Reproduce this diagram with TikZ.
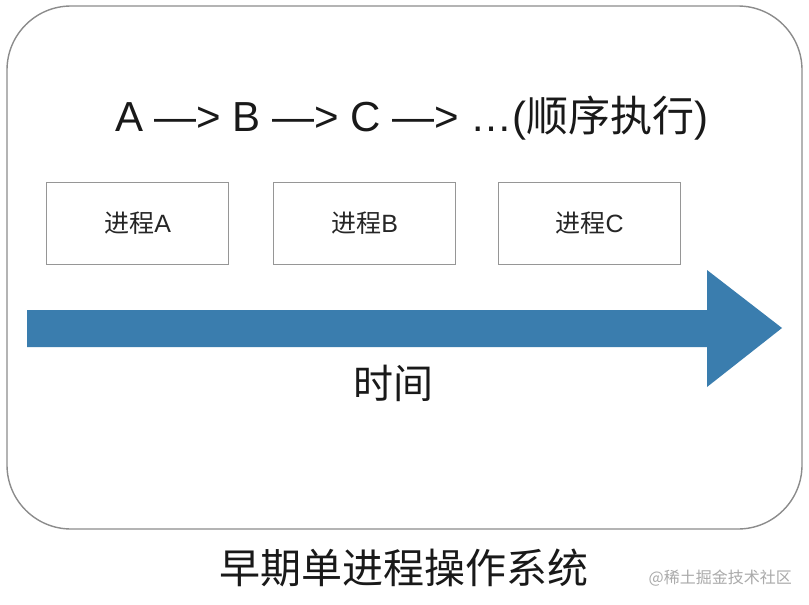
\documentclass[tikz,border=0pt]{standalone}
\usepackage{fontspec}
\setmainfont{Liberation Sans}
\newfontfamily\cjk{Noto Sans CJK SC}
\definecolor{arrowblue}{RGB}{58,125,174}
\definecolor{frame}{RGB}{140,140,140}
\definecolor{boxline}{RGB}{150,150,150}
\definecolor{wm}{RGB}{170,170,170}
\tikzset{
  procbox/.style={draw=boxline, line width=1.2pt, minimum width=182pt, minimum height=82pt, inner sep=0pt, font=\fontsize{25}{29}\selectfont, text=black!85},
  bigtext/.style={font=\fontsize{42}{48}\selectfont, text=black!90, inner sep=0pt},
}
\begin{document}
\begin{tikzpicture}[x=1pt,y=-1pt]
\useasboundingbox (0,0) rectangle (809,605);
\fill[white] (0,0) rectangle (809,605);
% outer frame
\draw[frame, line width=1.4pt, rounded corners=64pt] (7,6) rectangle (802,529);
% heading
\node[bigtext, anchor=base] (seq) at (412,131) {A —{\char"3E} B —{\char"3E} C —{\char"3E} …({\cjk 顺序执行})};
% process boxes
\node[procbox, anchor=north west] (pa) at (46,182) {{\cjk 进程}A};
\node[procbox, anchor=north west] (pb) at (273,182) {{\cjk 进程}B};
\node[procbox, anchor=north west] (pc) at (498,182) {{\cjk 进程}C};
% time arrow
\fill[arrowblue] (27,310) -- (707,310) -- (707,270) -- (782,328) -- (707,387) -- (707,347) -- (27,347) -- cycle;
\node[bigtext, font=\cjk\fontsize{40}{46}\selectfont] (time) at (393,383) {时间};
% caption
\node[bigtext, font=\cjk\fontsize{41}{48}\selectfont] (cap) at (404,568) {早期单进程操作系统};
% watermark
\node[text=wm, font=\cjk\fontsize{16}{19}\selectfont, inner sep=0pt, anchor=east] (wmk) at (792,578) {@稀土掘金技术社区};
\end{tikzpicture}
\end{document}
